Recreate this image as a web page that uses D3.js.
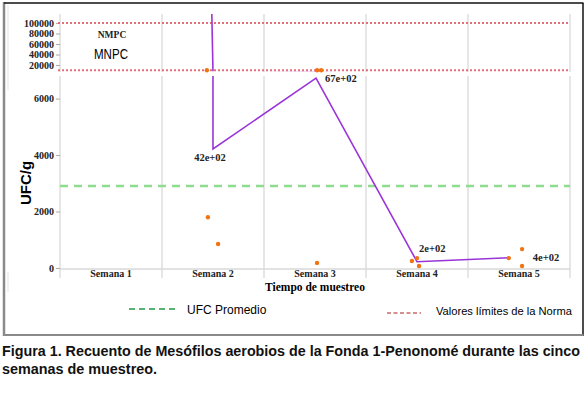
<!DOCTYPE html>
<html>
<head>
<meta charset="utf-8">
<script src="https://cdn.jsdelivr.net/npm/d3@7"></script>
<style>
  body { margin: 0; background: #fff; }
  svg { display: block; }
  .tick text { font-family: "Liberation Serif", serif; font-weight: bold; font-size: 10px; fill: #222; }
</style>
</head>
<body>
<div id="chart"></div>
<script>
// data
const weeks = ["Semana 1", "Semana 2", "Semana 3", "Semana 4", "Semana 5"];
// individual counts (x = week number with the small jitter seen in the figure)
const sampleX = [1.94, 1.95, 2.05, 3.02, 3.06, 3.02, 3.95, 4.0, 4.02, 4.9, 5.03, 5.03];
const sampleY = [10000, 1800, 850, 10000, 10000, 180, 250, 350, 70, 350, 670, 70];
// mean line (first point runs off the top of the chart)
const meanX = [1.985, 2.0, 3.01, 4.0, 4.9];
const meanY = [150000, 4217, 6727, 223, 363];
const meanLabels = [null, "42e+02", "67e+02", "2e+02", "4e+02"];
const ufcPromedio = 2900;
const normaLimits = [10000, 100000];
const upperTicks = [20000, 40000, 60000, 80000, 100000];
const lowerTicks = [0, 2000, 4000, 6000];

const W = 586, H = 396;
const left = 60, right = 570;

const svg = d3.select("#chart").append("svg")
    .attr("width", W)
    .attr("height", H);

// frame around the figure
svg.append("line").attr("x1", 4).attr("x2", 4).attr("y1", 2).attr("y2", 336)
    .attr("stroke", "#8a8a8a").attr("stroke-width", 2.5);
svg.append("line").attr("x1", 4).attr("x2", 583.5).attr("y1", 3).attr("y2", 3)
    .attr("stroke", "#111").attr("stroke-width", 1.5);
svg.append("line").attr("x1", 583).attr("x2", 583).attr("y1", 3).attr("y2", 336)
    .attr("stroke", "#111").attr("stroke-width", 1.5);
svg.append("line").attr("x1", 4).attr("x2", 583.5).attr("y1", 335).attr("y2", 335)
    .attr("stroke", "#8a8a8a").attr("stroke-width", 2);
svg.append("line").attr("x1", 8).attr("x2", 8).attr("y1", 5).attr("y2", 90)
    .attr("stroke", "#e4e4e4").attr("stroke-width", 1);
svg.append("line").attr("x1", 8).attr("x2", 8).attr("y1", 272).attr("y2", 292)
    .attr("stroke", "#e4e4e4").attr("stroke-width", 1);

const x = d3.scaleLinear().domain([0.5, 5.5]).range([left, right]);
const xBand = d3.scaleBand().domain(weeks).range([left, right]);

// broken y axis: two panels
const yUp = d3.scaleLinear().domain([6800, 117000]).range([72, 14]);
const yLo = d3.scaleLinear().domain([0, 6800]).range([268, 76]);
const panels = [
    {y: yUp, top: 14, bottom: 72, clipBottom: 71.3, ticks: upperTicks, id: "up"},
    {y: yLo, top: 76, bottom: 278, clipBottom: 270, ticks: lowerTicks, id: "lo"}
];

panels.forEach(p => {
    svg.append("clipPath").attr("id", "clip-" + p.id)
        .append("rect").attr("x", left).attr("y", p.top)
        .attr("width", right - left).attr("height", p.clipBottom - p.top);
});

// vertical grid lines at week boundaries
const bounds = d3.range(weeks.length + 1).map(i => left + i * xBand.bandwidth());
panels.forEach(p => {
    svg.append("g").selectAll("line").data(bounds).join("line")
        .attr("x1", d => d).attr("x2", d => d)
        .attr("y1", p.top).attr("y2", p.bottom)
        .attr("stroke", "#dedede").attr("stroke-width", 1.5);
});
// baseline
svg.append("line").attr("x1", left).attr("x2", right)
    .attr("y1", yLo(0) + 1).attr("y2", yLo(0) + 1)
    .attr("stroke", "#d8d8d8").attr("stroke-width", 1.5);

// y axes
panels.forEach(p => {
    const g = svg.append("g")
        .attr("transform", `translate(${left},0)`)
        .call(d3.axisLeft(p.y).tickValues(p.ticks).tickFormat(d3.format("d")).tickSize(4).tickPadding(2));
    g.select(".domain").remove();
    g.selectAll(".tick line").attr("stroke", "#aaa");
});

// x axis labels
const xg = svg.append("g")
    .attr("transform", `translate(0,${yLo(0)})`)
    .call(d3.axisBottom(xBand).tickSize(0).tickPadding(2));
xg.select(".domain").remove();

svg.append("text")
    .attr("x", 315).attr("y", 291)
    .attr("text-anchor", "middle")
    .style("font-family", "Liberation Serif, serif")
    .style("font-weight", "bold")
    .style("font-size", "11.5px")
    .text("Tiempo de muestreo");

svg.append("text")
    .attr("transform", "translate(31,183) rotate(-90)")
    .attr("text-anchor", "middle")
    .style("font-family", "Liberation Sans, Arial, sans-serif")
    .style("font-weight", "bold")
    .style("font-size", "15px")
    .text("UFC/g");

// reference lines
svg.append("line")
    .attr("x1", left).attr("x2", right)
    .attr("y1", yLo(ufcPromedio)).attr("y2", yLo(ufcPromedio))
    .attr("stroke", "#8edc8e").attr("stroke-width", 2.5)
    .attr("stroke-dasharray", "8,6");

svg.append("g").selectAll("line").data(normaLimits).join("line")
    .attr("x1", left - 2).attr("x2", right)
    .attr("y1", d => yUp(d)).attr("y2", d => yUp(d))
    .attr("stroke", "#e2707c").attr("stroke-width", 2)
    .attr("stroke-dasharray", "2,2");

// region labels
svg.append("text")
    .attr("x", 112).attr("y", 38)
    .attr("text-anchor", "middle")
    .style("font-family", "Liberation Serif, serif")
    .style("font-weight", "bold")
    .style("font-size", "9.5px")
    .style("fill", "#222")
    .text("NMPC");
svg.append("text")
    .attr("x", 94).attr("y", 59)
    .attr("textLength", 34).attr("lengthAdjust", "spacingAndGlyphs")
    .style("font-family", "Liberation Sans, Arial, sans-serif")
    .style("font-size", "15px")
    .style("fill", "#000")
    .text("MNPC");

// mean line, drawn in each panel with its own scale
const meanPts = meanX.map((d, i) => ({x: d, y: meanY[i], label: meanLabels[i]}));
panels.forEach(p => {
    const line = d3.line().x(d => x(d.x)).y(d => p.y(d.y));
    svg.append("path")
        .datum(meanPts)
        .attr("clip-path", `url(#clip-${p.id})`)
        .attr("d", line)
        .attr("fill", "none")
        .attr("stroke", "#9a34d8")
        .attr("stroke-width", 1.6);
});

// samples
const samples = sampleX.map((d, i) => ({x: d, y: sampleY[i]}));
svg.append("g").selectAll("circle").data(samples).join("circle")
    .attr("cx", d => x(d.x))
    .attr("cy", d => d.y > 6800 ? yUp(d.y) : yLo(d.y))
    .attr("r", 2.2)
    .attr("fill", "#f07414");

// mean labels
const labelOffsets = [null, [-3, 12, "middle"], [9, 4, "start"], [2, -10, "start"], [24, 3, "start"]];
svg.append("g").selectAll("text").data(meanPts.filter(d => d.label)).join("text")
    .each(function(d) {
        const i = meanPts.indexOf(d);
        const o = labelOffsets[i];
        d3.select(this)
            .attr("x", x(d.x) + o[0])
            .attr("y", yLo(d.y) + o[1])
            .attr("text-anchor", o[2]);
    })
    .style("font-family", "Liberation Serif, serif")
    .style("font-weight", "bold")
    .style("font-size", "10.5px")
    .style("fill", "#222")
    .text(d => d.label);

// legend
svg.append("line").attr("x1", 129).attr("x2", 178).attr("y1", 309).attr("y2", 309)
    .attr("stroke", "#229944").attr("stroke-width", 1.5).attr("stroke-dasharray", "6,4");
svg.append("text").attr("x", 187).attr("y", 314)
    .style("font-family", "Liberation Sans, Arial, sans-serif")
    .style("font-size", "12px")
    .text("UFC Promedio");
svg.append("line").attr("x1", 387).attr("x2", 421).attr("y1", 313).attr("y2", 313)
    .attr("stroke", "#c86a6a").attr("stroke-width", 1.3).attr("stroke-dasharray", "4,2.5");
svg.append("text").attr("x", 436).attr("y", 315)
    .attr("textLength", 136).attr("lengthAdjust", "spacingAndGlyphs")
    .style("font-family", "Liberation Sans, Arial, sans-serif")
    .style("font-size", "11px")
    .text("Valores límites de la Norma");

// caption
svg.append("text").attr("x", 2).attr("y", 356)
    .attr("textLength", 578).attr("lengthAdjust", "spacingAndGlyphs")
    .style("font-family", "Liberation Sans, Arial, sans-serif")
    .style("font-weight", "bold")
    .style("font-size", "14px")
    .style("fill", "#111")
    .text("Figura 1. Recuento de Mesófilos aerobios de la Fonda 1-Penonomé durante las cinco");
svg.append("text").attr("x", 2).attr("y", 374)
    .attr("textLength", 155).attr("lengthAdjust", "spacingAndGlyphs")
    .style("font-family", "Liberation Sans, Arial, sans-serif")
    .style("font-weight", "bold")
    .style("font-size", "14px")
    .style("fill", "#111")
    .text("semanas de muestreo.");
</script>
</body>
</html>
